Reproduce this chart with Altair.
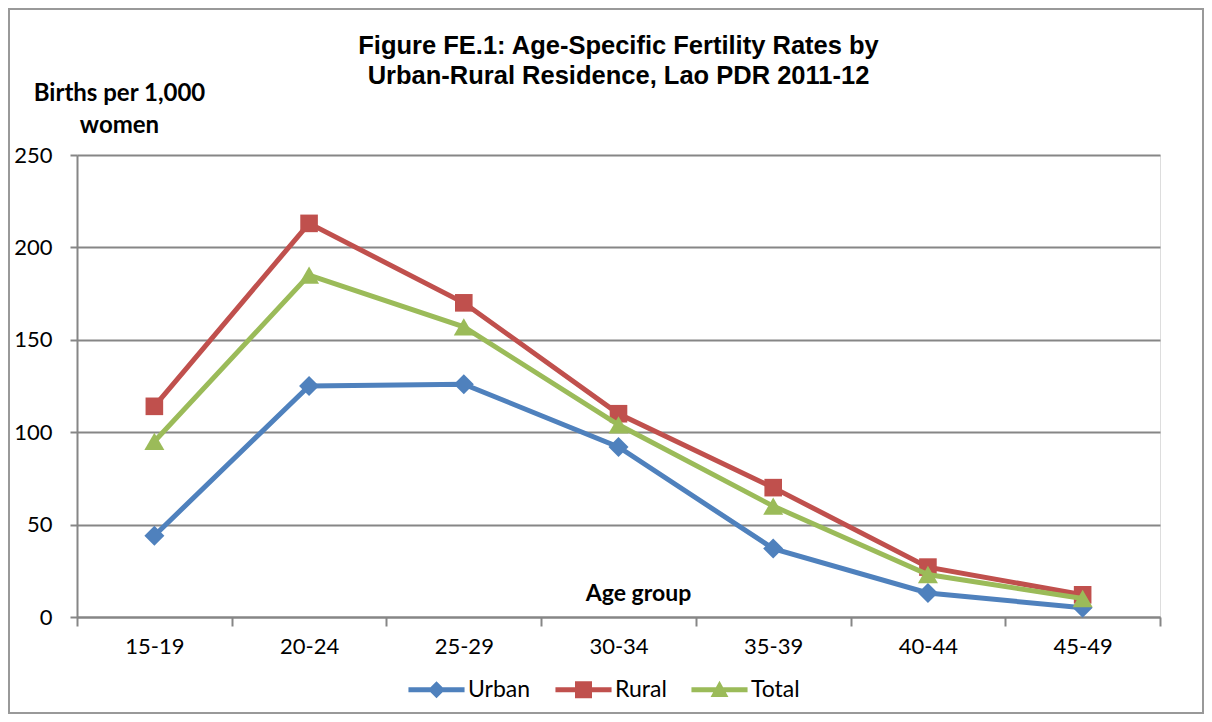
import altair as alt
import pandas as pd

ages = ["15-19", "20-24", "25-29", "30-34", "35-39", "40-44", "45-49"]
urban = [44, 125, 126, 92, 37, 13, 5]
rural = [114, 213, 170, 110, 70, 27, 12]
total = [95, 185, 157, 104, 60, 23, 10]
series = ["Urban", "Rural", "Total"]
colors = ["#4F81BD", "#C0504D", "#9BBB59"]
shapes = ["diamond", "square", "triangle-up"]
marker_sizes = [400, 310, 400]
y_ticks = [0, 50, 100, 150, 200, 250]

rows = []
for name, vals in zip(series, [urban, rural, total]):
    for a, v in zip(ages, vals):
        rows.append({"age": a, "value": v, "series": name})
df = pd.DataFrame(rows)

GRAY = "#868686"
FONT = "Lato"

x_enc = alt.X(
    "age:N", sort=ages,
    scale=alt.Scale(type="band", paddingInner=0, paddingOuter=0),
    axis=alt.Axis(
        title="Age group", titleFont=FONT, titleFontSize=23, titleFontWeight="bold",
        titleColor="black", titleX=561, titleY=-24, titleAlign="center", titleBaseline="middle",
        labelAngle=0, labelFont=FONT, labelFontSize=22, labelColor="black", labelPadding=10,
        tickBand="extent", tickSize=9, tickWidth=2, tickColor=GRAY,
        domainColor=GRAY, domainWidth=2, grid=False,
    ),
)
y_enc = alt.Y(
    "value:Q",
    scale=alt.Scale(domain=[0, 250], nice=False),
    axis=alt.Axis(
        values=y_ticks,
        title=["Births per 1,000", "women"], titleAngle=0, titleFont=FONT, titleFontSize=24,
        titleFontWeight="bold", titleColor="black", titleX=42, titleY=-55,
        titleAlign="center", titleBaseline="alphabetic", titleLineHeight=32,
        labelFont=FONT, labelFontSize=22, labelColor="black", labelPadding=18,
        tickSize=7, tickWidth=2, tickColor=GRAY, domainColor=GRAY, domainWidth=2,
        grid=True, gridColor=GRAY, gridWidth=2,
    ),
)

base = alt.Chart(df)
layers = []
for name, col, shp, sz in zip(series, colors, shapes, marker_sizes):
    sub = base.transform_filter(alt.datum.series == name)
    layers.append(sub.mark_line(color=col, strokeWidth=5).encode(x=x_enc, y=y_enc))
    layers.append(sub.mark_point(shape=shp, filled=True, color=col, size=sz, opacity=1).encode(x=x_enc, y=y_enc))

line_part = "M-3.3,-0.28H3.3V0.28H-3.3Z"
legend_paths = [
    line_part + "M0,-1L1,0L0,1L-1,0Z",
    line_part + "M-1,-1H1V1H-1Z",
    line_part + "M0,-1.05L1.05,0.85H-1.05Z",
]
leg = alt.Legend(
    title=None, orient="none", direction="horizontal", legendX=348, legendY=523,
    labelFont=FONT, labelFontSize=23, labelColor="black", labelOffset=20,
    columnPadding=24, symbolStrokeWidth=0, padding=0, symbolSize=289,
)
legend_layer = base.transform_filter("false").mark_point(filled=True, size=289, opacity=1).encode(
    color=alt.Color("series:N", scale=alt.Scale(domain=series, range=colors), legend=leg),
    shape=alt.Shape("series:N", scale=alt.Scale(domain=series, range=legend_paths), legend=leg),
)

frame = alt.Chart(pd.DataFrame({"k": [0]})).mark_rect(
    fill=None, stroke="#999999", strokeWidth=2, clip=False
).encode(x=alt.value(-68), x2=alt.value(1126), y=alt.value(-146), y2=alt.value(558))

chart = alt.layer(frame, *layers, legend_layer).properties(
    width=1083, height=462,
    title=alt.TitleParams(
        text=["Figure FE.1: Age-Specific Fertility Rates by", "Urban-Rural Residence, Lao PDR 2011-12"],
        font="Liberation Sans", fontSize=25.5, fontWeight="bold", color="black",
        anchor="middle", offset=-81, lineHeight=30,
    ),
    autosize=alt.AutoSizeParams(type="none"),
    padding={"left": 69, "top": 147, "right": 44, "bottom": 97},
).configure_view(stroke=None).configure(background="white")

chart.save("out.html", embed_options={"renderer": "svg", "actions": False})
